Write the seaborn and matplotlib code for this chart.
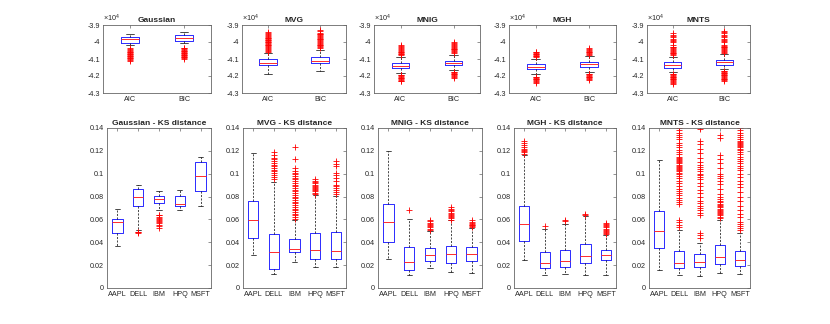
import matplotlib
matplotlib.use("Agg")
import matplotlib.pyplot as plt   # plotting
from matplotlib.ticker import FuncFormatter
import seaborn as sns             # styling


# labels
models = ["Gaussian", "MVG", "MNIG", "MGH", "MNTS"]
criteria = ["AIC", "BIC"]
stocks = ["AAPL", "DELL", "IBM", "HPQ", "MSFT"]

# top row: information criteria, per model [AIC, BIC]
ic_q1 = [[-40040, -39920], [-41380, -41240], [-41540, -41380], [-41600, -41480], [-41500, -41340]]
ic_med = [[-39820, -39740], [-41240, -41130], [-41400, -41250], [-41450, -41300], [-41340, -41190]]
ic_q3 = [[-39720, -39590], [-41010, -40890], [-41240, -41090], [-41300, -41150], [-41200, -41050]]
ic_lo = [[-40150, -40050], [-41870, -41730], [-41800, -41650], [-41900, -41750], [-41780, -41600]]
ic_hi = [[-39550, -39430], [-40650, -40450], [-40900, -40750], [-41000, -40850], [-40900, -40720]]
ic_fliers = [
    # Gaussian
    [[-40380, -40430, -40480, -40520, -40560, -40600, -40640, -40680, -40720, -40760,
      -40800, -40840, -40880, -40920, -40960, -41000, -41050, -41100],
     [-40330, -40380, -40420, -40460, -40500, -40540, -40580, -40620, -40660, -40700,
      -40740, -40780, -40820, -40860, -40900, -40950, -41000]],
    # MVG
    [[-39400, -39480, -39550, -39600, -39650, -39700, -39740, -39780, -39820, -39860,
      -39900, -39940, -39980, -40020, -40060, -40100, -40150, -40200, -40250, -40300,
      -40350, -40400, -40450, -40500, -40560],
     [-39300, -39380, -39450, -39500, -39550, -39600, -39650, -39700, -39750, -39800,
      -39850, -39900, -39950, -40000, -40050, -40100, -40150, -40200, -40250, -40300,
      -40360]],
    # MNIG
    [[-40170, -40250, -40320, -40380, -40430, -40480, -40520, -40560, -40600, -40640,
      -40680, -40720, -40760, -41930, -41970, -42010, -42050, -42090, -42130, -42170,
      -42220, -42270, -42320],
     [-39980, -40060, -40130, -40200, -40250, -40300, -40350, -40400, -40440, -40480,
      -40520, -40570, -40620, -41740, -41780, -41820, -41860, -41900, -41950, -42000,
      -42060, -42120]],
    # MGH
    [[-40560, -40600, -40640, -40680, -40720, -40760, -40800, -40850, -40890, -42030,
      -42070, -42110, -42150, -42190, -42230, -42280, -42330, -42410],
     [-40360, -40410, -40460, -40510, -40560, -40610, -40660, -40710, -40760, -41870,
      -41910, -41950, -41990, -42030, -42070, -42110, -42160, -42220]],
    # MNTS
    [[-39490, -39560, -39650, -39720, -39800, -39880, -39950, -40020, -40170, -40270,
      -40320, -40370, -40420, -40470, -40520, -40570, -40620, -40670, -40720, -40760,
      -41870, -41910, -41950, -41990, -42030, -42070, -42110, -42150, -42190, -42230,
      -42280, -42330, -42390, -42460],
     [-39330, -39400, -39480, -39560, -39640, -39720, -39800, -39880, -39960, -40020,
      -40170, -40220, -40270, -40320, -40370, -40420, -40470, -40520, -40570, -40640,
      -41680, -41720, -41760, -41800, -41840, -41880, -41920, -41960, -42000, -42050,
      -42100, -42150, -42200, -42250, -42300]],
]

# bottom row: KS distance, per model [AAPL, DELL, IBM, HPQ, MSFT]
ks_q1 = [[0.0481, 0.0720, 0.0744, 0.0720, 0.0852],
         [0.0438, 0.0169, 0.0312, 0.0254, 0.0257],
         [0.0403, 0.0155, 0.0233, 0.0219, 0.0236],
         [0.0411, 0.0175, 0.0184, 0.0219, 0.0245],
         [0.0350, 0.0175, 0.0181, 0.0210, 0.0190]]
ks_med = [[0.0578, 0.0796, 0.0779, 0.0735, 0.0977],
          [0.0598, 0.0315, 0.0344, 0.0335, 0.0327],
          [0.0575, 0.0228, 0.0286, 0.0298, 0.0295],
          [0.0560, 0.0219, 0.0236, 0.0277, 0.0292],
          [0.0502, 0.0219, 0.0228, 0.0271, 0.0245]]
ks_q3 = [[0.0604, 0.0869, 0.0802, 0.0802, 0.1100],
         [0.0764, 0.0473, 0.0432, 0.0481, 0.0487],
         [0.0735, 0.0359, 0.0350, 0.0370, 0.0359],
         [0.0720, 0.0315, 0.0335, 0.0385, 0.0335],
         [0.0677, 0.0321, 0.0300, 0.0373, 0.0321]]
ks_lo = [[0.0370, 0.0505, 0.0680, 0.0680, 0.0720],
         [0.0292, 0.0125, 0.0228, 0.0187, 0.0181],
         [0.0254, 0.0114, 0.0175, 0.0140, 0.0131],
         [0.0245, 0.0114, 0.0123, 0.0114, 0.0114],
         [0.0160, 0.0114, 0.0102, 0.0131, 0.0123]]
ks_hi = [[0.0691, 0.0898, 0.0846, 0.0855, 0.1143],
         [0.1180, 0.0930, 0.0595, 0.0817, 0.0805],
         [0.1196, 0.0604, 0.0496, 0.0595, 0.0525],
         [0.1165, 0.0519, 0.0563, 0.0627, 0.0467],
         [0.1123, 0.0510, 0.0390, 0.0598, 0.0481]]
ks_fliers = [
    # Gaussian
    [[], [0.0481, 0.0487, 0.0494],
     [0.0525, 0.0545, 0.0555, 0.0565, 0.0575, 0.0585, 0.0595, 0.0605, 0.0615, 0.0625,
      0.0635, 0.0642],
     [], []],
    # MVG
    [[],
     [0.0955, 0.0970, 0.0990, 0.1005, 0.1020, 0.1035, 0.1050, 0.1065, 0.1080, 0.1095,
      0.1110, 0.1125, 0.1140, 0.1165, 0.1187],
     [0.0605, 0.0620, 0.0635, 0.0650, 0.0665, 0.0680, 0.0695, 0.0710, 0.0725, 0.0740,
      0.0755, 0.0770, 0.0785, 0.0800, 0.0815, 0.0830, 0.0845, 0.0860, 0.0875, 0.0890,
      0.0905, 0.0920, 0.0935, 0.0950, 0.0965, 0.0980, 0.0995, 0.1010, 0.1025, 0.1050,
      0.1129, 0.1234],
     [0.0825, 0.0835, 0.0845, 0.0855, 0.0865, 0.0875, 0.0885, 0.0895, 0.0905, 0.0915,
      0.0925, 0.0940, 0.0955],
     [0.0825, 0.0840, 0.0860, 0.0875, 0.0890, 0.0905, 0.0933, 0.0960, 0.0985, 0.1006,
      0.1065, 0.1085, 0.1114]],
    # MNIG
    [[], [0.0680],
     [0.0510, 0.0520, 0.0530, 0.0540, 0.0550, 0.0560, 0.0570, 0.0585, 0.0598],
     [0.0598, 0.0610, 0.0620, 0.0630, 0.0640, 0.0650, 0.0660, 0.0670, 0.0680, 0.0695,
      0.0709],
     [0.0534, 0.0540, 0.0547, 0.0554, 0.0560, 0.0570, 0.0580, 0.0592]],
    # MGH
    [[0.1175, 0.1190, 0.1200, 0.1210, 0.1220, 0.1235, 0.1250, 0.1270, 0.1287],
     [0.0545], [0.0585, 0.0592], [0.0638, 0.0648],
     [0.0475, 0.0485, 0.0490, 0.0500, 0.0510, 0.0520, 0.0530, 0.0540, 0.0550, 0.0560,
      0.0570]],
    # MNTS
    [[],
     [0.0534, 0.0550, 0.0575, 0.0595, 0.0735, 0.0750, 0.0770, 0.0790, 0.0810, 0.0830,
      0.0850, 0.0870, 0.0895, 0.0920, 0.0940, 0.0960, 0.0980, 0.1000, 0.1010, 0.1020,
      0.1030, 0.1040, 0.1050, 0.1060, 0.1070, 0.1080, 0.1090, 0.1100, 0.1110, 0.1120,
      0.1130, 0.1140, 0.1150, 0.1170, 0.1190, 0.1210, 0.1230, 0.1250, 0.1270, 0.1300,
      0.1320, 0.1340, 0.1360, 0.1380, 0.1400],
     [0.0440, 0.0460, 0.0480, 0.0640, 0.0660, 0.0680, 0.0700, 0.0720, 0.0740, 0.0760,
      0.0800, 0.0830, 0.0860, 0.0890, 0.0920, 0.0950, 0.0970, 0.0990, 0.1000, 0.1020,
      0.1040, 0.1060, 0.1080, 0.1100, 0.1140, 0.1180, 0.1220, 0.1260, 0.1290, 0.1390],
     [0.0615, 0.0625, 0.0635, 0.0645, 0.0655, 0.0665, 0.0675, 0.0685, 0.0695, 0.0705,
      0.0715, 0.0725, 0.0735, 0.0750, 0.0765, 0.0780, 0.0800, 0.0820, 0.0870, 0.0910,
      0.0940, 0.0960, 0.0980, 0.1000, 0.1050, 0.1090, 0.1130, 0.1160, 0.1310, 0.1340],
     [0.0510, 0.0525, 0.0540, 0.0560, 0.0580, 0.0620, 0.0650, 0.0680, 0.0720, 0.0760,
      0.0800, 0.0840, 0.0880, 0.0910, 0.0940, 0.0970, 0.1000, 0.1030, 0.1050, 0.1070,
      0.1090, 0.1110, 0.1130, 0.1150, 0.1170, 0.1190, 0.1210, 0.1220, 0.1230, 0.1240,
      0.1250, 0.1260, 0.1270, 0.1280, 0.1290, 0.1300, 0.1320, 0.1340, 0.1360, 0.1380,
      0.1400]],
]

ic_ticks = [-43000, -42000, -41000, -40000, -39000]
ks_ticks = [0, 0.02, 0.04, 0.06, 0.08, 0.1, 0.12, 0.14]


# style
sns.set_theme(style="white")
plt.rcParams["font.family"] = ["Liberation Sans", "DejaVu Sans"]
plt.rcParams["mathtext.fontset"] = "custom"
plt.rcParams["mathtext.rm"] = "Liberation Sans"

W, H = 830, 324
fig = plt.figure(figsize=(W / 100, H / 100), dpi=100)

# axes pixel positions (left, right) for both rows
top_lr = [(103, 211), (242, 346), (374, 480), (509, 616), (647, 750)]
bot_lr = [(107, 211), (243, 346), (378, 482), (514, 616), (649, 750)]


def make_stats(q1, med, q3, lo, hi, fl):
    '''build the list of dicts that ax.bxp expects'''
    return [dict(q1=a, med=b, q3=c, whislo=d, whishi=e, fliers=f)
            for a, b, c, d, e, f in zip(q1, med, q3, lo, hi, fl)]


def style_axes(ax, n):
    for s in ax.spines.values():
        s.set_visible(True)
        s.set_color("#666666")
        s.set_linewidth(0.6)
    ax.tick_params(direction="in", length=2, width=0.5, color="#666666",
                   top=True, right=True, labelsize=5.2, labelcolor="#262626", pad=2)
    ax.set_xlim(0.5, n + 0.5)
    ax.set_xticks(range(1, n + 1))


def draw_boxes(ax, stats, width):
    ax.bxp(stats, positions=range(1, len(stats) + 1), widths=width, capwidths=width / 2,
           showfliers=True, manage_ticks=False,
           boxprops=dict(color="#2a2aff", linewidth=0.7),
           medianprops=dict(color="#ff2a2a", linewidth=0.7),
           whiskerprops=dict(color="black", linewidth=0.5, linestyle=(0, (3, 2))),
           capprops=dict(color="black", linewidth=0.5),
           flierprops=dict(marker="+", markeredgecolor="red", markersize=4,
                           markeredgewidth=0.6, linestyle="none"))


for i, model in enumerate(models):
    # top row: AIC / BIC
    l, r = top_lr[i]
    ax = fig.add_axes([l / W, 1 - 93 / H, (r - l) / W, 68 / H])
    stats = make_stats(ic_q1[i], ic_med[i], ic_q3[i], ic_lo[i], ic_hi[i], ic_fliers[i])
    draw_boxes(ax, stats, 0.33)
    style_axes(ax, 2)
    ax.set_xticklabels(criteria)
    ax.set_ylim(-43000, -39000)
    ax.set_yticks(ic_ticks)
    ax.yaxis.set_major_formatter(FuncFormatter(lambda v, p: f"{v / 1e4:g}"))
    ax.text(0, 1.015, r"$\times10^{4}$", transform=ax.transAxes, ha="left", va="bottom",
            fontsize=5.2, color="#262626")
    ax.set_title(model, fontsize=6, fontweight="bold", pad=2)

    # bottom row: KS distance
    l, r = bot_lr[i]
    ax = fig.add_axes([l / W, 1 - 288 / H, (r - l) / W, 160 / H])
    stats = make_stats(ks_q1[i], ks_med[i], ks_q3[i], ks_lo[i], ks_hi[i], ks_fliers[i])
    draw_boxes(ax, stats, 0.5)
    style_axes(ax, 5)
    ax.set_xticklabels(stocks)
    ax.set_ylim(0, 0.14)
    ax.set_yticks(ks_ticks)
    ax.yaxis.set_major_formatter(FuncFormatter(lambda v, p: f"{v:g}"))
    ax.set_title(f"{model} - KS distance", fontsize=6, fontweight="bold", pad=2)

fig.savefig("out.png", dpi=100)
